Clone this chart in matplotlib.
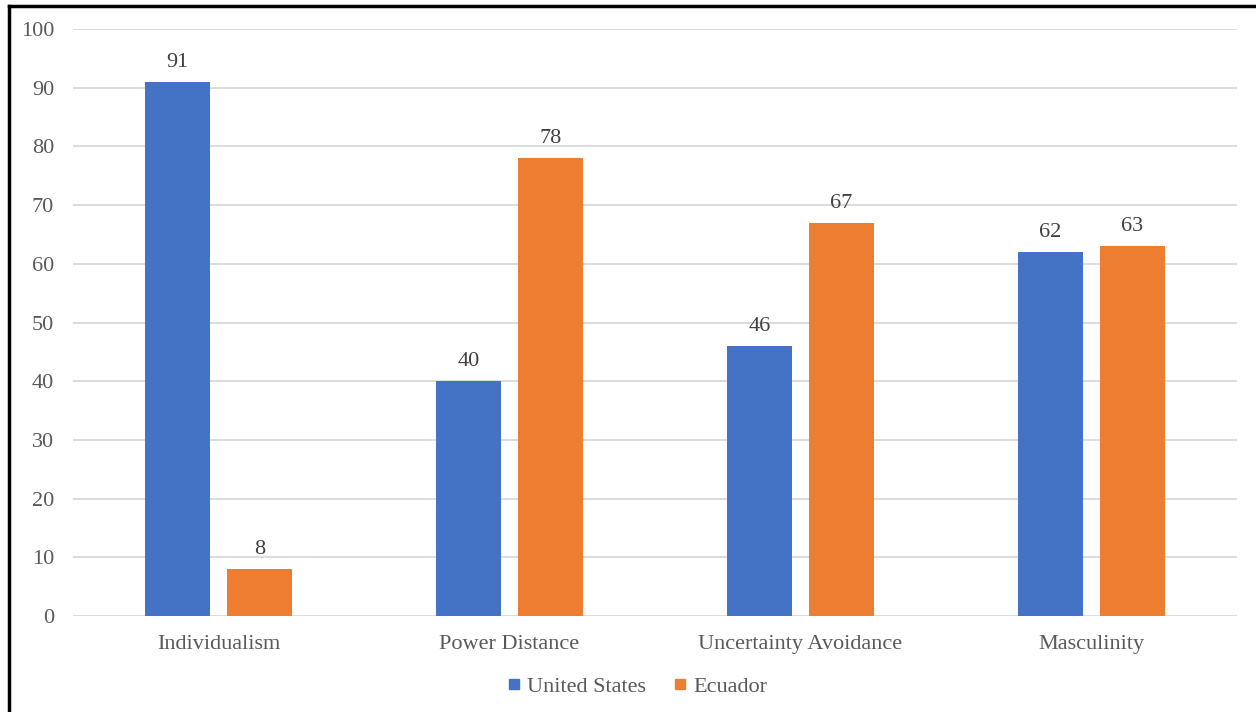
import matplotlib
matplotlib.use("Agg")
import matplotlib.pyplot as plt
from matplotlib.lines import Line2D
import numpy as np

categories = ["Individualism", "Power Distance", "Uncertainty Avoidance", "Masculinity"]
us_values = [91, 40, 46, 62]
ecuador_values = [8, 78, 67, 63]
series_names = ["United States", "Ecuador"]
colors = ["#4472C4", "#ED7D31"]

plt.rcParams["font.family"] = ["Liberation Serif", "DejaVu Serif"]

fig = plt.figure(figsize=(12.56, 7.12), dpi=100)
ax = fig.add_axes([0.0581, 0.1348, 0.9268, 0.8245])

x = np.arange(len(categories))
width = 0.223
offset = 0.141

bars_us = ax.bar(x - offset, us_values, width, color=colors[0], label=series_names[0], zorder=3)
bars_ec = ax.bar(x + offset, ecuador_values, width, color=colors[1], label=series_names[1], zorder=3)

for bars in (bars_us, bars_ec):
    ax.bar_label(bars, padding=7, fontsize=16, color="#404040")

ax.set_xlim(-0.5, len(categories) - 0.5)
ax.set_ylim(0, 100)
ax.set_yticks(range(0, 101, 10))
ax.set_xticks(x)
ax.set_xticklabels(categories)
ax.tick_params(axis="both", length=0, labelsize=16, labelcolor="#595959")
ax.tick_params(axis="y", pad=13.5)
ax.tick_params(axis="x", pad=14)
ax.grid(axis="y", color="#d9d9d9", linewidth=1.3, zorder=0)
for s in ax.spines.values():
    s.set_visible(False)

handles = [Line2D([], [], marker="s", linestyle="none", markersize=7,
                  markerfacecolor=c, markeredgecolor=c) for c in colors]
fig.legend(handles, series_names, loc="center", bbox_to_anchor=(0.507, 0.036),
           ncol=2, frameon=False, fontsize=16, labelcolor="#595959",
           handlelength=0.7, handletextpad=0.25, columnspacing=1.2)

# figure border (top and left only visible in source)
fig.add_artist(Line2D([0.0072, 1.0], [0.9916, 0.9916], color="black", linewidth=2.5))
fig.add_artist(Line2D([0.0072, 0.0072], [0.0, 0.9916], color="black", linewidth=2.5))

fig.savefig("out.png", dpi=100)
